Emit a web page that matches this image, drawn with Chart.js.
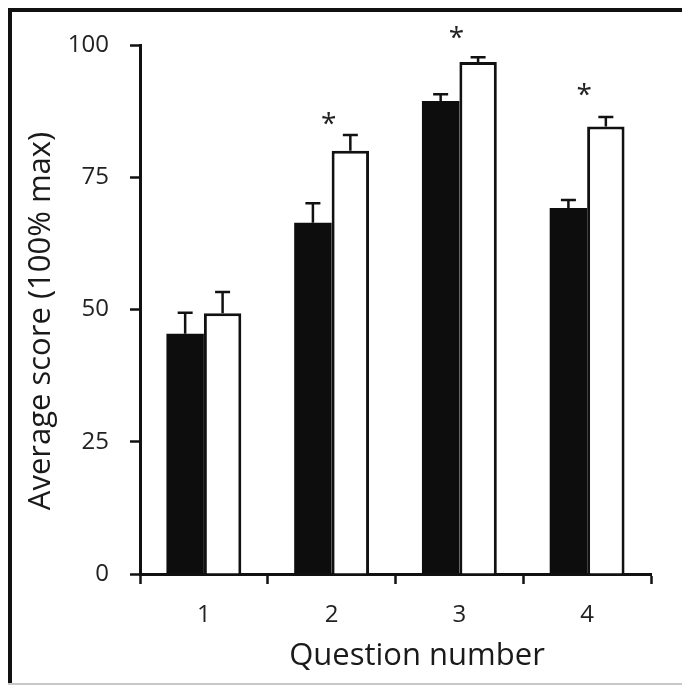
<!DOCTYPE html>
<html>
<head>
<meta charset="utf-8">
<script src="https://cdn.jsdelivr.net/npm/chart.js@4.4.1/dist/chart.umd.min.js"></script>
<style>
  html, body { margin: 0; padding: 0; background: #fff; }
  #wrap { position: relative; width: 682px; height: 685px; }
</style>
</head>
<body>
<div id="wrap"><canvas id="scoreChart" width="682" height="685"></canvas></div>
<script>
// ---- data ----
const questions   = ['1', '2', '3', '4'];
const blackMeans  = [45.4, 66.4, 89.4, 69.2];
const blackErrTop = [49.4, 70.1, 90.7, 70.7];
const whiteMeans  = [49.3, 80.0, 96.8, 84.6];
const whiteErrTop = [53.3, 83.0, 97.7, 86.4];
const starLevels  = [null, 86.2, 102.5, 91.7];
const yTicks      = [0, 25, 50, 75, 100];

const FONT = "'Open Sans', 'DejaVu Sans', sans-serif";

// frame around the whole figure
const framePlugin = {
    id: 'frame',
    beforeDraw(chart) {
        const ctx = chart.ctx;
        ctx.save();
        ctx.fillStyle = '#fff';
        ctx.fillRect(0, 0, chart.width, chart.height);
        ctx.fillStyle = '#111';
        ctx.fillRect(8, 8, chart.width - 8, 4);   // top
        ctx.fillRect(8, 8, 4, chart.height - 8);  // left
        ctx.fillStyle = '#c8c8c8';
        ctx.fillRect(8, chart.height - 2, chart.width - 8, 2); // bottom
        ctx.restore();
    }
};

// error bars (upper only) + significance stars + axis titles
const errorPlugin = {
    id: 'errorBars',
    afterDatasetsDraw(chart) {
        const ctx = chart.ctx;
        const y = chart.scales.y;
        const tops = [blackErrTop, whiteErrTop];
        ctx.save();
        ctx.strokeStyle = '#111';
        ctx.lineWidth = 2.5;
        tops.forEach((arr, d) => {
            const meta = chart.getDatasetMeta(d);
            meta.data.forEach((bar, i) => {
                const yTop = y.getPixelForValue(arr[i]);
                ctx.beginPath();
                ctx.moveTo(bar.x, bar.y);
                ctx.lineTo(bar.x, yTop);
                ctx.moveTo(bar.x - 7.5, yTop);
                ctx.lineTo(bar.x + 7.5, yTop);
                ctx.stroke();
            });
        });

        ctx.fillStyle = '#222';
        ctx.font = '28px ' + FONT;
        ctx.textAlign = 'center';
        ctx.textBaseline = 'middle';
        const x = chart.scales.x;
        starLevels.forEach((v, i) => {
            if (v === null) return;
            ctx.fillText('*', x.getPixelForValue(i) - 3, y.getPixelForValue(v) + 7);
        });

        // axis titles
        ctx.fillStyle = '#1a1a1a';
        ctx.font = '31px ' + FONT;
        ctx.textBaseline = 'alphabetic';
        ctx.fillText('Question number', 417, 665);
        ctx.translate(50, 321);
        ctx.rotate(-Math.PI / 2);
        ctx.fillText('Average score (100% max)', 0, 0);
        ctx.restore();
    }
};

new Chart(document.getElementById('scoreChart'), {
    type: 'bar',
    data: {
        labels: questions,
        datasets: [{
            label: 'Group A',
            data: blackMeans,
            backgroundColor: '#0d0d0d',
            borderWidth: 0,
            categoryPercentage: 0.586,
            barPercentage: 1.0
        }, {
            label: 'Group B',
            data: whiteMeans,
            backgroundColor: '#fff',
            borderColor: '#111',
            borderWidth: 3,
            categoryPercentage: 0.586,
            barPercentage: 1.0
        }]
    },
    options: {
        responsive: false,
        animation: false,
        devicePixelRatio: 1,
        layout: { padding: { left: 0, right: 31, top: 45, bottom: 0 } },
        plugins: {
            legend: { display: false },
            tooltip: { enabled: false }
        },
        scales: {
            x: {
                afterFit: s => { s.height = 111; },
                grid: {
                    offset: true,
                    drawOnChartArea: false,
                    drawTicks: true,
                    tickLength: 10,
                    tickWidth: 2.5,
                    tickColor: '#111'
                },
                border: { display: true, color: '#111', width: 3 },
                ticks: {
                    color: '#222',
                    padding: 17,
                    font: { family: FONT, size: 24 }
                }
            },
            y: {
                min: 0,
                max: 100,
                afterFit: s => { s.width = 140; },
                afterBuildTicks: s => { s.ticks = yTicks.map(v => ({ value: v })); },
                grid: {
                    drawOnChartArea: false,
                    drawTicks: true,
                    tickLength: 10,
                    tickWidth: 2.5,
                    tickColor: '#111'
                },
                border: { display: true, color: '#111', width: 3 },
                ticks: {
                    color: '#222',
                    padding: 21,
                    font: { family: FONT, size: 24 }
                }
            }
        }
    },
    plugins: [framePlugin, errorPlugin]
});
</script>
</body>
</html>
